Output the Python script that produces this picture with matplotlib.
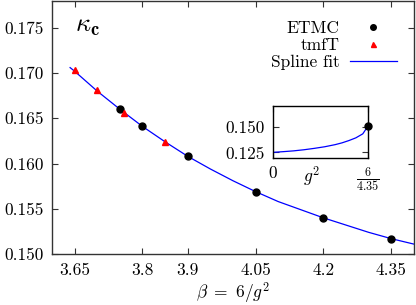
import matplotlib
matplotlib.use("Agg")
import matplotlib.pyplot as plt
import numpy as np

plt.rcParams['mathtext.fontset'] = 'cm'
plt.rcParams['font.family'] = 'serif'
plt.rcParams['font.serif'] = ['cmr10', 'DejaVu Serif']
plt.rcParams['axes.formatter.use_mathtext'] = True
plt.rcParams['axes.unicode_minus'] = False

# ETMC data
etmc_beta = [3.75, 3.80, 3.90, 4.05, 4.20, 4.35]
etmc_kappa = [0.1660, 0.1641, 0.1608, 0.1569, 0.1540, 0.1517]
# tmfT data
tmft_beta = [3.65, 3.70, 3.76, 3.85]
tmft_kappa = [0.1703, 0.1681, 0.1656, 0.1624]
# spline fit curve
spline_beta = [3.64, 3.65, 3.70, 3.75, 3.80, 3.85, 3.90, 3.95, 4.00, 4.05,
               4.10, 4.15, 4.20, 4.25, 4.30, 4.35, 4.40]
spline_kappa = [0.1706, 0.1702, 0.1680, 0.1660, 0.1641, 0.1624, 0.1608,
                0.1594, 0.1581, 0.1569, 0.1558, 0.1549, 0.1540, 0.1532,
                0.1524, 0.1517, 0.1511]
# inset: spline vs g^2
inset_g2 = [0.0, 0.15, 0.30, 0.45, 0.60, 0.75, 0.90, 1.00, 1.10, 1.20, 1.30, 6/4.35]
inset_kappa = [0.1250, 0.1257, 0.1265, 0.1276, 0.1290, 0.1306, 0.1327,
               0.1345, 0.1368, 0.1395, 0.1435, 0.1517]

xticks = [3.65, 3.8, 3.9, 4.05, 4.2, 4.35]
xticklabels = ['3.65', '3.8', '3.9', '4.05', '4.2', '4.35']
yticks = [0.150, 0.155, 0.160, 0.165, 0.170, 0.175]
yticklabels = ['0.150', '0.155', '0.160', '0.165', '0.170', '0.175']

FS = 12.5
spine_c = '#333333'

fig = plt.figure(figsize=(4.16, 3.05), dpi=100)
ax = fig.add_axes([0.125, 0.167, 0.870, 0.831])

ax.plot(spline_beta, spline_kappa, color='#0000ff', lw=0.9, label='Spline fit', zorder=2)
ax.plot(etmc_beta, etmc_kappa, 'o', color='black', ms=5, label='ETMC', zorder=3)
ax.plot(tmft_beta, tmft_kappa, '^', color='#ff0000', ms=4.5, label='tmfT', zorder=3)

ax.set_xlim(3.6, 4.4)
ax.set_ylim(0.150, 0.178)
ax.set_xticks(xticks)
ax.set_xticklabels(xticklabels, fontsize=FS)
ax.set_yticks(yticks)
ax.set_yticklabels(yticklabels, fontsize=FS)
ax.tick_params(direction='in', top=True, right=True, length=4.5, width=0.8,
               color=spine_c, pad=6)
for s in ax.spines.values():
    s.set_color(spine_c)
    s.set_linewidth(1.0)
ax.set_xlabel(r'$\beta\ =\ 6/g^2$', fontsize=FS, labelpad=2)
ax.text(0.097, 0.898, r'$\kappa_{\mathbf{c}}$', transform=ax.transAxes,
        fontsize=19, ha='center', va='center')

h, l = ax.get_legend_handles_labels()
order = [1, 2, 0]
leg = ax.legend([h[i] for i in order], [l[i] for i in order], loc='upper right',
                bbox_to_anchor=(0.991, 0.975), frameon=False, markerfirst=False,
                fontsize=FS, handlelength=2.7, handletextpad=0.6,
                labelspacing=0.1, borderpad=0.3, markerscale=0.8)
for t in leg.get_texts():
    t.set_ha('right')

# inset
ax2 = fig.add_axes([0.6555, 0.483, 0.2298, 0.1695])
ax2.plot(inset_g2, inset_kappa, color='#0000ff', lw=0.9, zorder=2)
ax2.plot([6/4.35], [etmc_kappa[-1]], 'o', color='black', ms=5, zorder=3, clip_on=False)
ax2.set_xlim(0, 6/4.35)
ax2.set_ylim(0.1197, 0.1713)
ax2.set_xticks([0, 6/4.35])
ax2.set_xticklabels(['0', r'$\frac{6}{4.35}$'], fontsize=FS)
ax2.set_yticks([0.125, 0.150])
ax2.set_yticklabels(['0.125', '0.150'], fontsize=FS)
ax2.tick_params(direction='in', top=True, right=True, length=4.5, width=0.8,
                color=spine_c, pad=6)
for s in ax2.spines.values():
    s.set_color('black')
    s.set_linewidth(1.0)
ax2.text(0.41, -0.37, r'$g^2$', transform=ax2.transAxes, fontsize=FS,
         ha='center', va='center')

fig.savefig('out.png', dpi=100)
